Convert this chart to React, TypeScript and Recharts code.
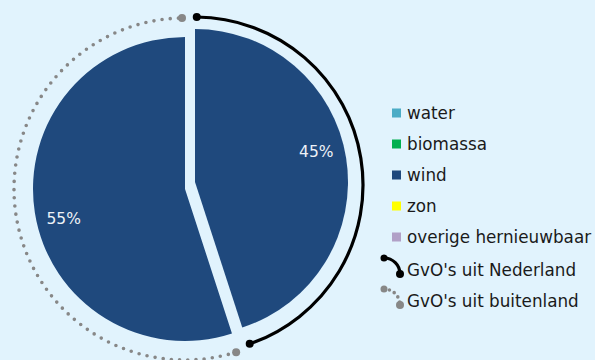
import { PieChart, Pie, Legend } from "recharts";

const BG = "#E1F3FD";
const WIND = "#1F497D";
const FONT = "'DejaVu Sans', Verdana, sans-serif";

// GvO shares (percent)
const shareNames = ["GvO's uit Nederland", "GvO's uit buitenland"];
const shareValues = [45, 55];

// legend categories
const categories = ["water", "biomassa", "wind", "zon", "overige hernieuwbaar"];
const categoryColors = ["#4BACC6", "#00B050", "#1F497D", "#FFFF00", "#B1A0C7"];

// exploded slices: each slice + its outer arc has its own centre
const sliceCenters = [
  [195, 182],
  [185, 189],
];
const sliceRadius = [153, 152];
const arcCenters = [
  [195, 185],
  [185, 189],
];
const arcRadius = [168, 171];
const arcStyles = [
  { color: "#000", width: 3.2, dash: undefined as string | undefined, end: 4 },
  { color: "#878787", width: 3.6, dash: "0 8.2", end: 4 },
];

const total = shareValues.reduce((a, b) => a + b, 0);
const bounds = shareValues.map((v, i) => {
  const before = shareValues.slice(0, i).reduce((a, b) => a + b, 0);
  return [90 - (360 * before) / total, 90 - (360 * (before + v)) / total];
});
const rows = shareNames.map((name, i) => ({ name, value: shareValues[i] }));

const RAD = Math.PI / 180;
const polar = (cx: number, cy: number, r: number, a: number) => [cx + r * Math.cos(a * RAD), cy - r * Math.sin(a * RAD)];

const pctLabel = (p: any) => {
  const [x, y] = polar(p.cx, p.cy, 125, p.midAngle + 5);
  return (
    <text x={x} y={y} fill="#EEF2F7" fontSize={15.5} fontFamily={FONT} textAnchor="middle" dominantBaseline="central">
      {p.value}%
    </text>
  );
};

const arcLabel = (i: number) => (p: any) => {
  const s = arcStyles[i];
  const [x0, y0] = polar(p.cx, p.cy, p.outerRadius, p.startAngle);
  const [x1, y1] = polar(p.cx, p.cy, p.outerRadius, p.endAngle);
  const large = Math.abs(p.startAngle - p.endAngle) > 180 ? 1 : 0;
  return (
    <g>
      <path
        d={`M${x0},${y0} A${p.outerRadius},${p.outerRadius} 0 ${large} 1 ${x1},${y1}`}
        fill="none"
        stroke={s.color}
        strokeWidth={s.width}
        strokeDasharray={s.dash}
        strokeLinecap="round"
      />
      <circle cx={x0} cy={y0} r={s.end} fill={s.color} />
      <circle cx={x1} cy={y1} r={s.end} fill={s.color} />
    </g>
  );
};

const renderLegend = () => (
  <svg width={215} height={215} style={{ display: "block" }}>
    {categories.map((c, i) => (
      <g key={c}>
        <rect x={12} y={13 + i * 31 - 4.5} width={9} height={9} fill={categoryColors[i]} />
        <text x={27} y={13 + i * 31} dy="0.36em" fontSize={16.8} fontFamily={FONT} fill="#1a1a1a">
          {c}
        </text>
      </g>
    ))}
    {shareNames.map((n, i) => {
      const y = 13 + (categories.length + i) * 31;
      const s = arcStyles[i];
      return (
        <g key={n}>
          <path
            d={`M4,${y - 10} A16,16 0 0 1 20,${y + 6}`}
            fill="none"
            stroke={s.color}
            strokeWidth={s.width}
            strokeDasharray={s.dash ? "0 5.5" : undefined}
            strokeLinecap="round"
          />
          <circle cx={4} cy={y - 10} r={s.end - 0.5} fill={s.color} />
          <circle cx={20} cy={y + 6} r={s.end} fill={s.color} />
          <text x={27} y={y + 2} dy="0.36em" fontSize={16.8} fontFamily={FONT} fill="#1a1a1a">
            {n}
          </text>
        </g>
      );
    })}
  </svg>
);

export default function App() {
  return (
    <div style={{ position: "absolute", left: 0, top: 0, width: 595, height: 360, background: BG }}>
      <PieChart width={595} height={360} margin={{ top: 0, right: 0, bottom: 0, left: 0 }}>
        {rows.map((r, i) => (
          <Pie
            key={"s" + i}
            data={[r]}
            dataKey="value"
            nameKey="name"
            cx={sliceCenters[i][0]}
            cy={sliceCenters[i][1]}
            outerRadius={sliceRadius[i]}
            startAngle={bounds[i][0]}
            endAngle={bounds[i][1]}
            fill={WIND}
            stroke="none"
            label={pctLabel}
            labelLine={false}
            isAnimationActive={false}
          />
        ))}
        {rows.map((r, i) => (
          <Pie
            key={"a" + i}
            data={[r]}
            dataKey="value"
            nameKey="name"
            cx={arcCenters[i][0]}
            cy={arcCenters[i][1]}
            innerRadius={arcRadius[i]}
            outerRadius={arcRadius[i]}
            startAngle={bounds[i][0] - 0.6}
            endAngle={bounds[i][1] + 1}
            fill="none"
            stroke="none"
            label={arcLabel(i)}
            labelLine={false}
            isAnimationActive={false}
          />
        ))}
        <Legend content={renderLegend} wrapperStyle={{ left: 380, top: 100, width: 215, height: 215 }} />
      </PieChart>
    </div>
  );
}
